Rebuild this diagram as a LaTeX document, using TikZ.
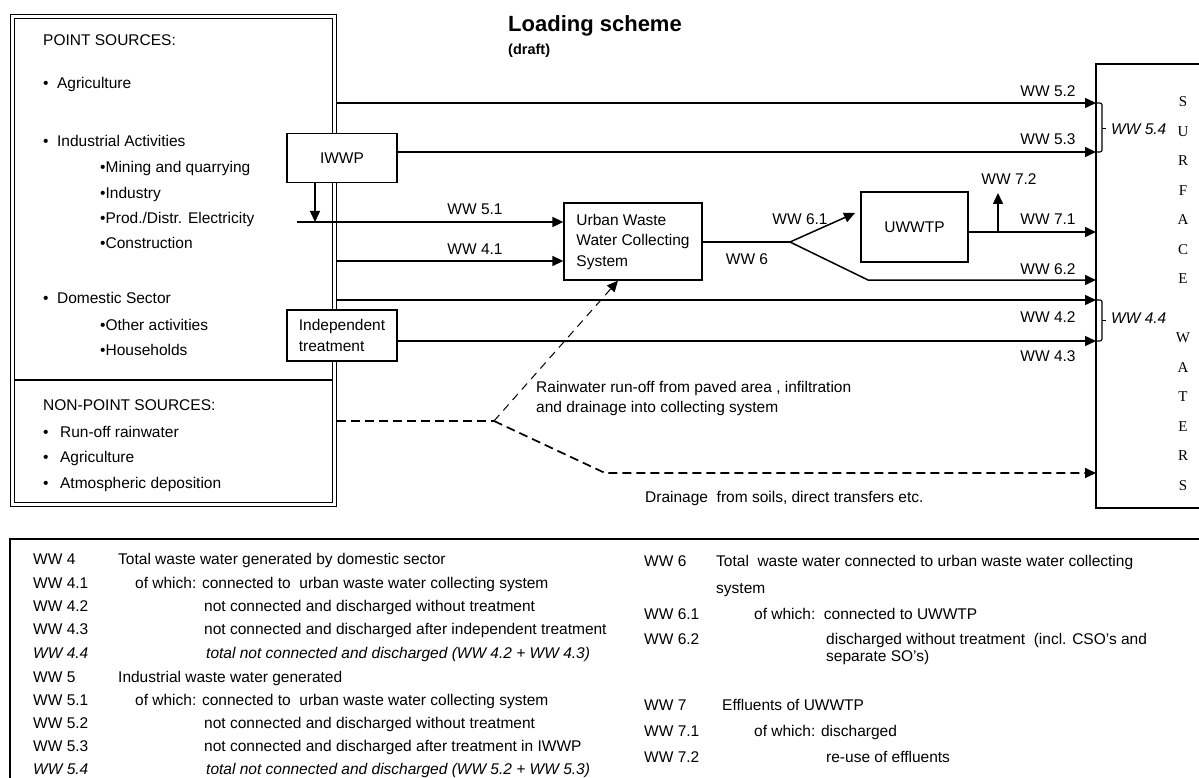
\documentclass[tikz,border=0pt]{standalone}
\usepackage{fontspec}
\setmainfont{Liberation Sans}
\newfontfamily\serifletters{Liberation Serif}
\usepackage{tikz}
\usetikzlibrary{arrows.meta}

\tikzset{
  flow/.style={line width=1.5pt, -{Triangle[length=11pt,width=10pt]}},
  pipe/.style={line width=1.5pt},
  rain/.style={line width=1.7pt, dash pattern=on 9pt off 5pt},
  thinrain/.style={line width=1pt, dash pattern=on 8pt off 6pt},
  unit/.style={draw, line width=1.3pt, fill=white, inner sep=0pt, align=left,
    font=\fontsize{15.5}{20.5}\selectfont},
  txt/.style={anchor=west, inner sep=0pt, text height=11pt, text depth=0pt,
    font=\fontsize{15.5}{18}\selectfont},
  flowlabel/.style={inner sep=0pt, text height=11pt, text depth=0pt,
    font=\fontsize{15.5}{18}\selectfont},
  legtxt/.style={anchor=west, inner sep=0pt, text height=11pt, text depth=0pt,
    font=\fontsize{15.5}{18}\selectfont},
  wletter/.style={inner sep=0pt, font=\serifletters\fontsize{15}{18}\selectfont},
}

\begin{document}
\begin{tikzpicture}[x=1pt, y=-1pt]
  \useasboundingbox (0,0) rectangle (1199,778);
  %
  \node[anchor=base west, inner sep=0pt, font=\bfseries\fontsize{22}{26}\selectfont] (title) at (508,32) {Loading scheme};
  \node[anchor=base west, inner sep=0pt, font=\bfseries\fontsize{14.5}{17}\selectfont] (draft) at (508,55) {(draft)};
  %
  % sources
  \node[draw, double, double distance=2.4pt, line width=1.2pt, minimum width=322.2pt, minimum height=488.2pt] (sources) at (173.5,260.5) {};
  \draw[line width=1.2pt] (14,380) -- (333,380);
  \node[txt] (ps) at (43,40) {POINT SOURCES:};
  \node[txt] (agri) at (43,83) {\textbullet\hspace{8.5pt}Agriculture};
  \node[txt] (ind) at (43,141) {\textbullet\hspace{8.5pt}Industrial Activities};
  \node[txt] (mining) at (100,167) {\textbullet Mining and quarrying};
  \node[txt] (industry) at (100,193) {\textbullet Industry};
  \node[txt] (elec) at (100,218) {\textbullet Prod./Distr. Electricity};
  \node[txt] (constr) at (100,243) {\textbullet Construction};
  \node[txt] (dom) at (43,298) {\textbullet\hspace{8.5pt}Domestic Sector};
  \node[txt] (other) at (100,325) {\textbullet Other activities};
  \node[txt] (house) at (100,350) {\textbullet Households};
  \node[txt] (nps) at (43,405) {NON-POINT SOURCES:};
  \node[txt] (runoff) at (43,432) {\textbullet\hspace{11.5pt}Run-off rainwater};
  \node[txt] (agri2) at (43,457) {\textbullet\hspace{11.5pt}Agriculture};
  \node[txt] (atmos) at (43,483) {\textbullet\hspace{11.5pt}Atmospheric deposition};
  %
  % treatment units
  \node[unit, align=center, minimum width=110pt, minimum height=49pt] (iwwp) at (342,158) {IWWP};
  \node[unit, minimum width=110pt, minimum height=51pt] (indep) at (342,335.5) {Independent\\treatment};
  \node[unit, minimum width=138pt, minimum height=77pt] (uwwcs) at (633,241.5) {Urban Waste\\Water Collecting\\System};
  \node[unit, align=center, minimum width=107pt, minimum height=70pt] (uwwtp) at (914.5,227) {UWWTP};
  %
  % surface waters
  \draw[line width=1.3pt] (1199,64) -| (1096,508) -- (1199,508);
  \foreach \ch [count=\k from 0] in {S,U,R,F,A,C,E}
    \node[wletter] (sa\k) at (1183,102+29.5*\k) {\ch};
  \foreach \ch [count=\k from 8] in {W,A,T,E,R,S}
    \node[wletter] (wa\k) at (1183,102+29.5*\k) {\ch};
  %
  \coordinate (s52) at (337,103);
  \coordinate (t52) at (1096,103);
  \coordinate (t53) at (1096,152);
  \coordinate (s51) at (297,222);
  \coordinate (s41) at (337,261);
  \coordinate (j6) at (790,242);
  \coordinate (e61) at (855,213);
  \coordinate (k62) at (868,280);
  \coordinate (t62) at (1096,280);
  \coordinate (t71) at (1096,232);
  \coordinate (r72) at (998,193);
  \coordinate (s42) at (337,300);
  \coordinate (t42) at (1096,300);
  \coordinate (t43) at (1096,341);
  \coordinate (srain) at (337,421);
  \coordinate (jr) at (494,421);
  \coordinate (kdr) at (605,473);
  \coordinate (tdr) at (1096,473);
  %
  \draw[flow] (s52) -- (t52);
  \draw[flow] (iwwp.east |- t53) -- (t53);
  \draw[pipe] (s51) -- (s41 |- s51);
  \draw[flow] (s41 |- s51) -- (uwwcs.west |- s51);
  \draw[flow] ([xshift=-27pt]iwwp.south) -- ([xshift=-27pt]iwwp.south |- s51);
  \draw[flow] (s41) -- (uwwcs.west |- s41);
  \draw[pipe] (uwwcs.east |- j6) -- (j6);
  \draw[flow] (j6) -- (e61);
  \draw[flow] (j6) -- (k62) -- (t62);
  \draw[flow] (uwwtp.east |- t71) -- (t71);
  \draw[flow] (r72 |- t71) -- (r72);
  \draw[flow] (s42) -- (t42);
  \draw[flow] (indep.east |- t43) -- (t43);
  %
  \draw[rain] (srain) -- (jr);
  \draw[thinrain, -{Triangle[length=11pt,width=10pt]}] (jr) -- ([xshift=-15pt]uwwcs.south);
  \draw[rain, -{Triangle[length=11pt,width=10pt]}] (jr) -- (kdr) -- (tdr);
  %
  % brackets
  \draw[line width=1.1pt, rounded corners=2pt] (t52) -- (1102,103) -- (1102,152) -- (t53);
  \draw[line width=1pt] (1102,129) -- (1106,129);
  \draw[line width=1.1pt, rounded corners=2pt] (t42) -- (1102,300) -- (1102,341) -- (t43);
  \draw[line width=1pt] (1102,320) -- (1106,320);
  \node[txt, font=\itshape\fontsize{15.5}{18}\selectfont] (l54) at (1111,129) {WW 5.4};
  \node[txt, font=\itshape\fontsize{15.5}{18}\selectfont] (l44) at (1111,318) {WW 4.4};
  %
  % flow labels
  \node[flowlabel] (l52) at (1048,91) {WW 5.2};
  \node[flowlabel] (l53) at (1048,139) {WW 5.3};
  \node[flowlabel] (l51) at (475,209) {WW 5.1};
  \node[flowlabel] (l41) at (475,249) {WW 4.1};
  \node[flowlabel] (l6) at (747,259) {WW 6};
  \node[flowlabel] (l61) at (800,219) {WW 6.1};
  \node[flowlabel] (l72) at (1009,179) {WW 7.2};
  \node[flowlabel] (l71) at (1048,219) {WW 7.1};
  \node[flowlabel] (l62) at (1048,269) {WW 6.2};
  \node[flowlabel] (l42) at (1048,317) {WW 4.2};
  \node[flowlabel] (l43) at (1048,356) {WW 4.3};
  \node[txt, align=left, text height=, text depth=, anchor=north west, font=\fontsize{15.5}{20.5}\selectfont] (lrain) at (536,381) {Rainwater run-off from paved area , infiltration\\and drainage into collecting system};
  \node[txt] (ldrain) at (645,497) {Drainage\ \ from soils, direct transfers etc.};
  %
  % legend
  \draw[line width=2pt] (1199,539) -- (10,539);
  \draw[line width=1.3pt] (10,538) -- (10,778);
  \node[legtxt] (k4) at (33,559) {WW 4};
  \node[legtxt] (d4) at (118,559) {Total waste water generated by domestic sector};
  \node[legtxt] (k41) at (33,583) {WW 4.1};
  \node[legtxt] (d41) at (135,583) {of which: connected to\ \ urban waste water collecting system};
  \node[legtxt] (k42) at (33,606) {WW 4.2};
  \node[legtxt] (d42) at (204,606) {not connected and discharged without treatment};
  \node[legtxt] (k43) at (33,629) {WW 4.3};
  \node[legtxt] (d43) at (204,629) {not connected and discharged after independent treatment};
  \node[legtxt, font=\itshape\fontsize{15.5}{18}\selectfont] (k44) at (33,653) {WW 4.4};
  \node[legtxt, font=\itshape\fontsize{15.5}{18}\selectfont] (d44) at (206,653) {total not connected and discharged (WW 4.2 + WW 4.3)};
  \node[legtxt] (k5) at (33,677) {WW 5};
  \node[legtxt] (d5) at (118,677) {Industrial waste water generated};
  \node[legtxt] (k51) at (33,700) {WW 5.1};
  \node[legtxt] (d51) at (135,700) {of which: connected to\ \ urban waste water collecting system};
  \node[legtxt] (k52) at (33,723) {WW 5.2};
  \node[legtxt] (d52) at (204,723) {not connected and discharged without treatment};
  \node[legtxt] (k53) at (33,746) {WW 5.3};
  \node[legtxt] (d53) at (204,746) {not connected and discharged after treatment in IWWP};
  \node[legtxt, font=\itshape\fontsize{15.5}{18}\selectfont] (k54) at (33,769) {WW 5.4};
  \node[legtxt, font=\itshape\fontsize{15.5}{18}\selectfont] (d54) at (206,769) {total not connected and discharged (WW 5.2 + WW 5.3)};
  %
  \node[legtxt] (k6) at (644,561) {WW 6};
  \node[legtxt] (d6) at (716,561) {Total\ \ waste water connected to urban waste water collecting};
  \node[legtxt] (d6b) at (716,588) {system};
  \node[legtxt] (k61) at (644,614) {WW 6.1};
  \node[legtxt] (d61) at (754,614) {of which:\ \ connected to UWWTP};
  \node[legtxt] (k62l) at (644,639) {WW 6.2};
  \node[legtxt] (d62) at (826,639) {discharged without treatment\ \ (incl. CSO's and};
  \node[legtxt] (d62b) at (826,656) {separate SO's)};
  \node[legtxt] (k7) at (644,705) {WW 7};
  \node[legtxt] (d7) at (722,705) {Effluents of UWWTP};
  \node[legtxt] (k71) at (644,731) {WW 7.1};
  \node[legtxt] (d71) at (754,731) {of which: discharged};
  \node[legtxt] (k72) at (644,757) {WW 7.2};
  \node[legtxt] (d72) at (826,757) {re-use of effluents};
\end{tikzpicture}
\end{document}
